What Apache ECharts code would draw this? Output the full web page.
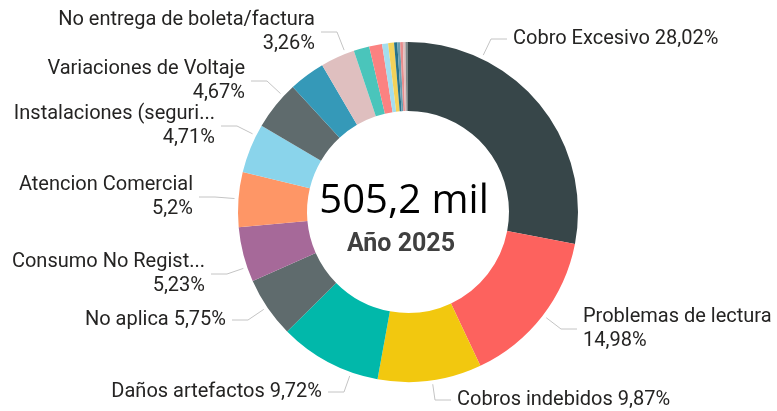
<!DOCTYPE html>
<html>
<head>
<meta charset="utf-8">
<script src="https://cdn.jsdelivr.net/npm/echarts@6/dist/echarts.min.js"></script>
<style>
html,body{margin:0;padding:0;background:#fff;}
#chart{width:777px;height:411px;}
</style>
</head>
<body>
<div id="chart"></div>
<script>
// categorias en el orden del grafico (sentido horario desde arriba)
var categories = ['Cobro Excesivo','Problemas de lectura','Cobros indebidos','Daños artefactos',
	'No aplica','Consumo No Regist...','Atencion Comercial','Instalaciones (seguri...',
	'Variaciones de Voltaje','Otro A','No entrega de boleta/factura','Otro B','Otro C',
	'Otro D','Otro E','Otro F','Otro G','Otro H','Otro I','Otro J'];
// porcentaje de cada categoria
var values = [28.02,14.98,9.87,9.72,5.75,5.23,5.2,4.71,4.67,3.43,3.26,1.49,1.23,0.57,0.56,0.3,0.27,0.26,0.24,0.24];
var colors = ['#374649','#FD625E','#F2C80F','#01B8AA','#5F6B6D','#A66999','#FE9666','#8AD4EB',
	'#5F6B6D','#3599B8','#DFBFBF','#4AC5BB','#FB8281','#A4DDEE','#F4D25A','#28738A','#6A9FB0','#E88D8D','#DFBFBF','#7F898A'];
// 0 = sin etiqueta, 1 = una linea, 2 = dos lineas
var labelMode = [1,2,1,1,1,2,2,2,2,0,2,0,0,0,0,0,0,0,0,0];
var totalText = '505,2 mil';
var subText = 'Año 2025';

// geometria del anillo
var cx = 408, cy = 212, innerR = 101, outerR = 170;
// donde va cada etiqueta (lado del texto junto a la linea, centro vertical)
var labelPos = {
	0:[513,39,'left'], 1:[583,329,'left'], 2:[457,400,'left'],
	3:[322,392,'right'], 4:[226,320,'right'], 5:[205,274,'right'],
	6:[193,197,'right'], 7:[215,126,'right'], 8:[245,81,'right'], 10:[315,32,'right']
};

// angulos de cada porcion (grados, horario desde arriba)
var total = 0;
for(var i=0;i<values.length;i++) total += values[i];
var angStart = [], angEnd = [];
var acc = 0;
for(var i=0;i<values.length;i++){
	angStart.push(acc/total*360);
	acc += values[i];
	angEnd.push(acc/total*360);
}

var myChart = echarts.init(document.getElementById('chart'));

var data = [];
for(var i=0;i<categories.length;i++){
	var item = {name:categories[i],value:values[i],itemStyle:{color:colors[i]}};
	if(labelMode[i]==0){
		item.label = {show:false};
		item.labelLine = {show:false};
	}
	data.push(item);
}

function fmtPct(v){
	return String(v).replace('.',',')+'%';
}

var option = {
	animation:false,
	graphic:[{
		type:'text',
		x:cx-4,y:202,
		style:{text:totalText,font:'40px "Open Sans"',fill:'#000',align:'center',verticalAlign:'middle'}
	},{
		type:'text',
		x:cx-7,y:245,
		style:{text:subText,font:'bold 25px Roboto',fill:'#404040',align:'center',verticalAlign:'middle'}
	}],
	series:[{
		type:'pie',
		center:[cx,cy],
		radius:[innerR,outerR],
		startAngle:90,
		clockwise:true,
		avoidLabelOverlap:false,
		label:{
			show:true,
			position:'outside',
			fontFamily:'Roboto',
			fontSize:20,
			lineHeight:24,
			color:'#252423',
			formatter:function(p){
				if(labelMode[p.dataIndex]==2) return p.name+'\n'+fmtPct(p.value);
				return p.name+' '+fmtPct(p.value);
			}
		},
		labelLine:{
			show:true,
			length:12,
			length2:16,
			lineStyle:{color:'#c4c4c4',width:1}
		},
		labelLayout:function(params){
			var i = params.dataIndex;
			var lp = labelPos[i];
			if(!lp) return {};
			var dir = lp[2]=='left' ? 1 : -1;
			var ex = lp[0]-dir*6, bx = lp[0]-dir*22, by = lp[1];
			// punto del borde exterior mas cercano al codo, dentro de la porcion
			var a = Math.atan2(bx-cx, cy-by)*180/Math.PI;
			if(a<0) a += 360;
			a = Math.min(Math.max(a, angStart[i]+2), angEnd[i]-2);
			var rad = a*Math.PI/180, r = outerR+4;
			var sx = cx+r*Math.sin(rad), sy = cy-r*Math.cos(rad);
			return {
				x:lp[0],y:lp[1],align:lp[2],verticalAlign:'middle',
				labelLinePoints:[[sx,sy],[bx,by],[ex,by]]
			};
		},
		emphasis:{disabled:true},
		data:data
	}]
};
myChart.setOption(option);
</script>
</body>
</html>
